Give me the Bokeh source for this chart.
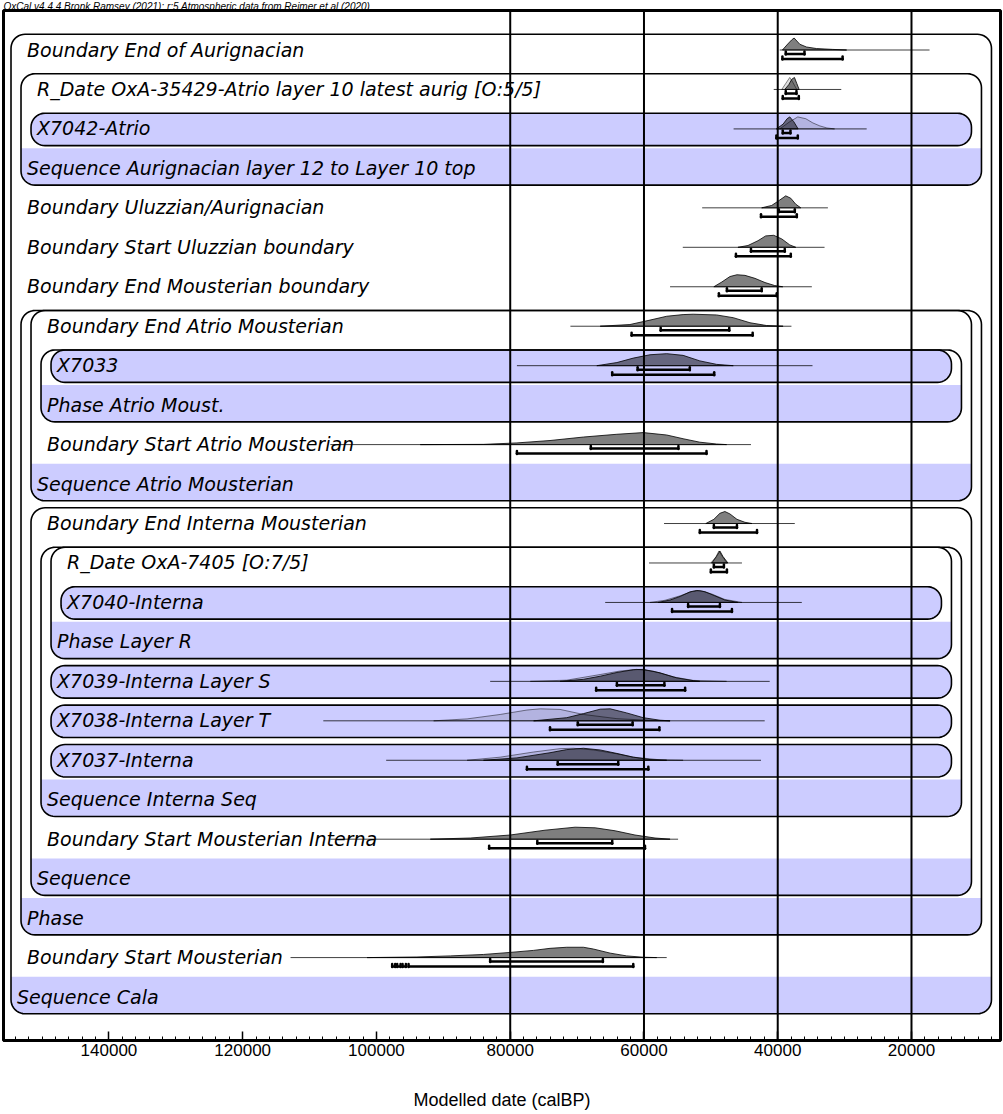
import math
from bokeh.plotting import figure
from bokeh.models import Range1d, FixedTicker, NumeralTickFormatter, Span
from bokeh.core.properties import value
from bokeh.embed import file_html
from bokeh.resources import INLINE

# ---------------- data ----------------
header = "OxCal v4.4.4 Bronk Ramsey (2021); r:5 Atmospheric data from Reimer et al (2020)"
x_label = "Modelled date (calBP)"
tick_values = [140000, 120000, 100000, 80000, 60000, 40000, 20000]
grid_years = [80000, 60000, 40000, 20000]

row_labels = [
    "Boundary End of Aurignacian",
    "R_Date OxA-35429-Atrio layer 10 latest aurig [O:5/5]",
    "X7042-Atrio",
    "Sequence Aurignacian layer 12 to Layer 10 top",
    "Boundary Uluzzian/Aurignacian",
    "Boundary Start Uluzzian boundary",
    "Boundary End Mousterian boundary",
    "Boundary End Atrio Mousterian",
    "X7033",
    "Phase Atrio Moust.",
    "Boundary Start Atrio Mousterian",
    "Sequence Atrio Mousterian",
    "Boundary End Interna Mousterian",
    "R_Date OxA-7405 [O:7/5]",
    "X7040-Interna",
    "Phase Layer R",
    "X7039-Interna Layer S",
    "X7038-Interna Layer T",
    "X7037-Interna",
    "Sequence Interna Seq",
    "Boundary Start Mousterian Interna",
    "Sequence",
    "Phase",
    "Boundary Start Mousterian",
    "Sequence Cala",
]
row_kind = ["item", "item", "group", "group", "item", "item", "item", "item", "group", "group",
            "item", "group", "item", "item", "group", "group", "group", "group", "group", "group",
            "item", "group", "group", "item", "group"]
row_depth = [0, 1, 2, 1, 0, 0, 0, 2, 4, 3,
             2, 2, 2, 4, 5, 4, 4, 4, 4, 3,
             2, 2, 1, 0, 0]

group_first = [0, 1, 2, 7, 7, 8, 8, 12, 13, 13, 14, 16, 17, 18]
group_last = [24, 3, 2, 22, 11, 9, 8, 21, 19, 15, 14, 16, 17, 18]
group_depth = [0, 1, 2, 1, 2, 3, 4, 2, 3, 4, 5, 4, 4, 4]

# distributions (calBP years, relative heights)
r00_base = [39700, 17300]
r00_post_x = [39300, 38500, 37900, 37550, 36700, 35700, 34200, 31800, 29700]
r00_post_h = [0, 0.5, 0.85, 1.0, 0.48, 0.25, 0.12, 0.05, 0]
r00_h68 = [(38800, 36000)]
r00_h95 = [(39300, 30300)]

r01_base = [40600, 30500]
r01_prior_x = [39400, 38800, 38200, 37750, 37150]
r01_prior_h = [0, 0.5, 1.0, 0.6, 0]
r01_post_x = [38950, 38350, 37900, 37500, 37150, 36800]
r01_post_h = [0, 0.4, 0.85, 1.0, 0.5, 0]
r01_h68 = [(38800, 37200)]
r01_h95 = [(39250, 36850)]

r02_base = [46600, 26700]
r02_prior_x = [39700, 38200, 37000, 35800, 34750, 33700, 32650, 31500]
r02_prior_h = [0, 0.6, 1.0, 0.85, 0.5, 0.25, 0.08, 0]
r02_post_x = [40200, 39200, 38600, 38200, 37600, 36950]
r02_post_h = [0, 0.4, 0.85, 1.0, 0.6, 0]
r02_h68 = [(39250, 38100)]
r02_h95 = [(40200, 37000)]

r04_base = [51300, 32500]
r04_post_x = [42400, 40900, 39700, 38800, 38050, 37300, 36550]
r04_post_h = [0, 0.2, 0.65, 1.0, 0.8, 0.3, 0]
r04_h68 = [(39850, 37450)]
r04_h95 = [(42500, 37150)]

r05_base = [54200, 33000]
r05_post_x = [45950, 44450, 42950, 41800, 40600, 39400, 38200, 37300]
r05_post_h = [0, 0.15, 0.55, 0.95, 1.0, 0.7, 0.2, 0]
r05_h68 = [(44000, 38950)]
r05_h95 = [(46250, 38050)]

r06_base = [56100, 34900]
r06_post_x = [49550, 48350, 47150, 46100, 44900, 43400, 41900, 40450, 39250]
r06_post_h = [0, 0.4, 0.85, 1.0, 0.95, 0.7, 0.35, 0.1, 0]
r06_h68 = [(47600, 42400)]
r06_h95 = [(48800, 40150)]

r07_base = [71000, 37950]
r07_post_x = [66550, 62100, 59100, 56600, 54150, 52650, 49150, 46650, 44150, 41700, 39200]
r07_post_h = [0, 0.14, 0.51, 0.83, 0.97, 1.0, 0.94, 0.71, 0.29, 0.06, 0]
r07_h68 = [(57500, 47250)]
r07_h95 = [(61850, 43750)]

r08_base = [79000, 34800]
r08_post_x = [67050, 64050, 61600, 59100, 56600, 54150, 51650, 49150, 46650]
r08_post_h = [0, 0.26, 0.63, 0.91, 1.0, 0.86, 0.4, 0.11, 0]
r08_h68 = [(60950, 53150)]
r08_h95 = [(64750, 49500)]

r10_base = [106900, 44000]
r10_post_x = [93450, 84000, 79000, 74050, 69050, 64050, 60100, 56600, 54150, 51650, 49150, 47650]
r10_post_h = [0, 0.02, 0.14, 0.34, 0.63, 0.86, 1.0, 0.8, 0.49, 0.2, 0.05, 0]
r10_h68 = [(67950, 54850)]
r10_h95 = [(79000, 50650)]

r12_base = [57000, 37450]
r12_post_x = [50750, 49550, 48650, 47900, 47150, 46100, 44900, 43850]
r12_post_h = [0, 0.35, 0.85, 1.0, 0.8, 0.35, 0.1, 0]
r12_h68 = [(49550, 46100)]
r12_h95 = [(51650, 43100)]

r13_base = [59250, 45350]
r13_prior_x = [50000, 49250, 48800, 48350, 47600]
r13_prior_h = [0, 0.5, 1.0, 0.6, 0]
r13_post_x = [49850, 49150, 48650, 48200, 47450]
r13_post_h = [0, 0.55, 1.0, 0.55, 0]
r13_h68 = [(49550, 48050)]
r13_h95 = [(50000, 47600)]

r14_base = [65800, 36400]
r14_prior_x = [59100, 56850, 54600, 52850, 51650, 49850, 47900, 45350]
r14_prior_h = [0, 0.18, 0.55, 0.9, 1.0, 0.7, 0.25, 0]
r14_post_x = [57900, 56100, 54600, 53150, 52100, 50900, 49400, 47900, 45950]
r14_post_h = [0, 0.2, 0.5, 0.88, 1.0, 0.9, 0.55, 0.2, 0]
r14_h68 = [(53400, 48650)]
r14_h95 = [(55800, 46850)]

r16_base = [83000, 41200]
r16_prior_x = [77000, 71550, 66550, 63600, 61100, 58600, 55600, 52650, 47650]
r16_prior_h = [0, 0.1, 0.57, 0.86, 1.0, 0.85, 0.37, 0.08, 0]
r16_post_x = [72550, 69050, 66550, 64050, 61600, 60100, 57600, 55100, 52650, 51650]
r16_post_h = [0, 0.17, 0.43, 0.74, 0.97, 1.0, 0.71, 0.29, 0.06, 0]
r16_h68 = [(64050, 56950)]
r16_h95 = [(67150, 53850)]

r17_base = [107950, 41950]
r17_prior_x = [91450, 86450, 81500, 77500, 75500, 72550, 69050, 64050, 59100, 56100]
r17_prior_h = [0, 0.16, 0.53, 0.9, 1.0, 0.95, 0.53, 0.18, 0.04, 0]
r17_post_x = [76500, 71550, 69050, 66550, 65050, 62600, 60100, 57600, 56100]
r17_post_h = [0, 0.26, 0.6, 0.97, 1.0, 0.66, 0.26, 0.05, 0]
r17_h68 = [(69900, 61700)]
r17_h95 = [(74050, 57700)]

r18_base = [98550, 42500]
r18_prior_x = [86450, 81500, 76500, 72550, 70550, 67550, 64050, 61600, 57600, 54150]
r18_prior_h = [0, 0.26, 0.69, 0.97, 1.0, 0.86, 0.54, 0.26, 0.04, 0]
r18_post_x = [84000, 79000, 74050, 71550, 69050, 66550, 64050, 61600, 59100, 56600]
r18_post_h = [0, 0.2, 0.63, 0.89, 1.0, 0.86, 0.57, 0.26, 0.06, 0]
r18_h68 = [(72900, 63850)]
r18_h95 = [(77500, 59350)]

r20_base = [106900, 54900]
r20_post_x = [91950, 85950, 80000, 74800, 70300, 67300, 64300, 61350, 58350, 56100]
r20_post_h = [0, 0.1, 0.35, 0.75, 1.0, 0.95, 0.7, 0.35, 0.1, 0]
r20_h68 = [(75950, 64750)]
r20_h95 = [(83150, 59850)]

r23_base = [112850, 56600]
r23_post_x = [101400, 93950, 88950, 84000, 80000, 76500, 74050, 71550, 69050, 67550, 65050, 62600, 60100, 58100]
r23_post_h = [0, 0.05, 0.14, 0.26, 0.43, 0.6, 0.77, 0.86, 0.86, 0.71, 0.37, 0.14, 0.03, 0]
r23_h68 = [(83000, 66150)]
r23_h95 = [(97650, 97200), (96900, 96400), (96100, 95600), (95200, 61600)]

dists = [
    (0, r00_base, None, None, r00_post_x, r00_post_h, r00_h68, r00_h95),
    (1, r01_base, r01_prior_x, r01_prior_h, r01_post_x, r01_post_h, r01_h68, r01_h95),
    (2, r02_base, r02_prior_x, r02_prior_h, r02_post_x, r02_post_h, r02_h68, r02_h95),
    (4, r04_base, None, None, r04_post_x, r04_post_h, r04_h68, r04_h95),
    (5, r05_base, None, None, r05_post_x, r05_post_h, r05_h68, r05_h95),
    (6, r06_base, None, None, r06_post_x, r06_post_h, r06_h68, r06_h95),
    (7, r07_base, None, None, r07_post_x, r07_post_h, r07_h68, r07_h95),
    (8, r08_base, None, None, r08_post_x, r08_post_h, r08_h68, r08_h95),
    (10, r10_base, None, None, r10_post_x, r10_post_h, r10_h68, r10_h95),
    (12, r12_base, None, None, r12_post_x, r12_post_h, r12_h68, r12_h95),
    (13, r13_base, r13_prior_x, r13_prior_h, r13_post_x, r13_post_h, r13_h68, r13_h95),
    (14, r14_base, r14_prior_x, r14_prior_h, r14_post_x, r14_post_h, r14_h68, r14_h95),
    (16, r16_base, r16_prior_x, r16_prior_h, r16_post_x, r16_post_h, r16_h68, r16_h95),
    (17, r17_base, r17_prior_x, r17_prior_h, r17_post_x, r17_post_h, r17_h68, r17_h95),
    (18, r18_base, r18_prior_x, r18_prior_h, r18_post_x, r18_post_h, r18_h68, r18_h95),
    (20, r20_base, None, None, r20_post_x, r20_post_h, r20_h68, r20_h95),
    (23, r23_base, None, None, r23_post_x, r23_post_h, r23_h68, r23_h95),
]

# ---------------- layout ----------------
X_LEFT_YEAR = 155770
X_RIGHT_YEAR = 6690
YEARS_PER_PX = 149.6
FRAME_LEFT_PX = 3.5
ROW0 = 48.0
ROW_H = 39.46
Y_TOP = 9.0
Y_BOTTOM = 1039.0
DIST_H = 12.0
LAVENDER = "#ccccff"


def px2yr(px):
    return X_LEFT_YEAR - (px - FRAME_LEFT_PX) * YEARS_PER_PX


def row_y(i):
    return ROW0 + ROW_H * i


def rrect(L, R, T, B, r, round_top=True):
    r = min(r, (B - T) / 2.0)
    pts = []
    n = 10

    def arc(cx, cy, a0, a1):
        for k in range(n + 1):
            a = a0 + (a1 - a0) * k / n
            pts.append((cx + r * math.cos(a), cy + r * math.sin(a)))

    if round_top:
        arc(L + r, T + r, math.pi, 1.5 * math.pi)
        arc(R - r, T + r, 1.5 * math.pi, 2 * math.pi)
    else:
        pts.append((L, T))
        pts.append((R, T))
    arc(R - r, B - r, 0, 0.5 * math.pi)
    arc(L + r, B - r, 0.5 * math.pi, math.pi)
    xs = [px2yr(p_[0]) for p_ in pts]
    ys = [p_[1] for p_ in pts]
    return xs, ys


p = figure(width=1003, height=1112, x_range=Range1d(X_LEFT_YEAR, X_RIGHT_YEAR),
           y_range=Range1d(Y_BOTTOM, Y_TOP), output_backend="svg", toolbar_location=None,
           y_axis_location=None, min_border_left=3, min_border_right=3,
           min_border_top=0, min_border_bottom=0, title=header)
p.background_fill_color = "white"
p.border_fill_color = "white"
p.outline_line_color = "black"
p.outline_line_width = 3
p.xgrid.visible = False
p.ygrid.visible = False

p.title.text_font = "Liberation Sans"
p.title.text_font_size = "10px"
p.title.text_font_style = "italic"
p.title.text_color = "black"
p.title.align = "left"
p.title.standoff = -3
p.title.offset = 0

ax = p.xaxis[0]
ax.ticker = FixedTicker(ticks=tick_values, minor_ticks=list(range(8000, 156000, 2000)))
ax.formatter = NumeralTickFormatter(format="0")
ax.major_tick_in = 9
ax.major_tick_out = 0
ax.minor_tick_in = 4
ax.minor_tick_out = 0
ax.major_tick_line_width = 1.5
ax.minor_tick_line_width = 1
ax.axis_line_width = 3
ax.major_label_text_font = "Liberation Sans"
ax.major_label_text_font_size = "17px"
ax.major_label_text_color = "black"
ax.major_label_standoff = 3
ax.axis_label = x_label
ax.axis_label_text_font = "Liberation Sans"
ax.axis_label_text_font_style = "normal"
ax.axis_label_text_font_size = "18px"
ax.axis_label_text_color = "black"
ax.axis_label_standoff = 31

# group boxes: fills
box_shapes = []
for f, l, d in zip(group_first, group_last, group_depth):
    L = 11 + 10 * d
    R = 991 - 10 * d
    T = row_y(f) - ROW_H / 2 + 4.5
    B = row_y(l) + ROW_H / 2 - 2.5
    box_shapes.append(rrect(L, R, T, B, 14))
    if f == l:
        fx, fy = rrect(L, R, T, B, 14)
    else:
        fx, fy = rrect(L, R, row_y(l) - ROW_H / 2, B, 14, round_top=False)
    p.patch(fx, fy, fill_color=LAVENDER, line_color=None)

for xs, ys in box_shapes:
    p.patch(xs, ys, fill_alpha=0, line_color="black", line_width=1.6)

# labels
lx = []
for k, d in zip(row_kind, row_depth):
    lx.append(px2yr(11 + 10 * d + (6 if k == "group" else 16)))
p.text(x=lx, y=[row_y(i) for i in range(len(row_labels))], text=row_labels,
       text_font=value("DejaVu Sans"), text_font_style="italic", text_font_size="19px",
       text_baseline="middle", text_align="left", text_color="black")

# distributions
for (ri, base, prx, prh, pox, poh, h68, h95) in dists:
    yb = row_y(ri) + 0.5
    p.line(base, [yb, yb], line_color="black", line_width=1, line_alpha=0.75)
    if prx is not None:
        p.patch(prx, [yb - DIST_H * h for h in prh], fill_color="black", fill_alpha=0.12,
                line_color="black", line_alpha=0.6, line_width=0.8)
    p.patch(pox, [yb - DIST_H * h for h in poh], fill_color="black", fill_alpha=0.5,
            line_color="black", line_alpha=0.8, line_width=1)
    for off, ranges in ((4.5, h68), (9.5, h95)):
        yy = row_y(ri) + off
        x0 = [a for a, b in ranges]
        x1 = [b for a, b in ranges]
        p.segment(x0=x0, x1=x1, y0=[yy] * len(ranges), y1=[yy] * len(ranges),
                  line_color="black", line_width=2.5, line_cap="round")
        ends = x0 + x1
        p.segment(x0=ends, x1=ends, y0=[yy - 2.5] * len(ends), y1=[yy + 0.5] * len(ends),
                  line_color="black", line_width=2.5, line_cap="round")

for g in grid_years:
    p.add_layout(Span(location=g, dimension="height", line_color="black", line_width=2))

open("out.html", "w").write(file_html(p, INLINE))
